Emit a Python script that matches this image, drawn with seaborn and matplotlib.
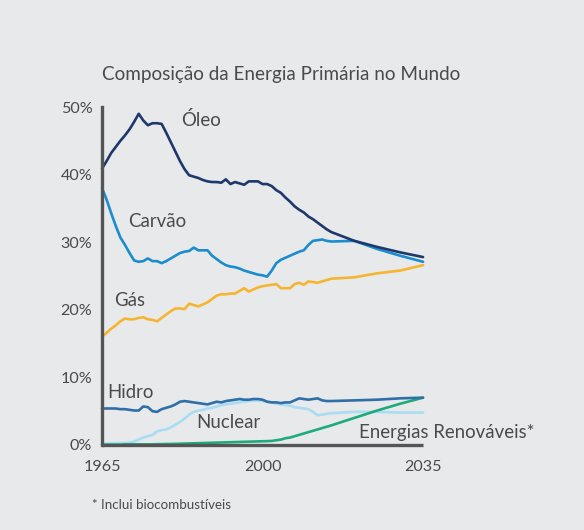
import matplotlib
matplotlib.use("Agg")
import matplotlib.pyplot as plt
import pandas as pd
import seaborn as sns

# values (share of world primary energy, %)
years = list(range(1965, 2016)) + [2020, 2025, 2030, 2035]

oleo = [40.9, 42.0, 43.2, 44.1, 45.0, 45.8, 46.7, 47.8, 49.0, 48.0,
        47.3, 47.6, 47.6, 47.5, 46.2, 44.8, 43.4, 42.0, 40.8, 39.9,
        39.7, 39.5, 39.2, 39.0, 38.9, 38.9, 38.8, 39.3, 38.6, 38.9,
        38.7, 38.5, 39.0, 39.0, 39.0, 38.6, 38.6, 38.3, 37.7, 37.3,
        36.6, 36.0, 35.3, 34.8, 34.4, 33.8, 33.4, 32.9, 32.4, 31.9,
        31.5, 30.2, 29.3, 28.5, 27.8]
carvao = [38.0, 36.3, 34.3, 32.4, 30.7, 29.6, 28.4, 27.3, 27.1, 27.2,
          27.6, 27.2, 27.2, 26.9, 27.2, 27.6, 28.0, 28.4, 28.6, 28.7,
          29.2, 28.8, 28.8, 28.8, 28.0, 27.5, 27.0, 26.6, 26.4, 26.3,
          26.1, 25.8, 25.6, 25.4, 25.2, 25.1, 24.9, 25.8, 26.9, 27.4,
          27.7, 28.0, 28.3, 28.6, 28.8, 29.6, 30.2, 30.3, 30.4, 30.2,
          30.1, 30.2, 29.0, 28.0, 27.1]
gas = [16.0, 16.6, 17.2, 17.7, 18.3, 18.7, 18.6, 18.6, 18.8, 18.9,
       18.6, 18.5, 18.3, 18.8, 19.3, 19.8, 20.2, 20.2, 20.1, 20.9,
       20.7, 20.5, 20.8, 21.1, 21.6, 22.1, 22.3, 22.3, 22.4, 22.4,
       22.8, 23.2, 22.7, 23.0, 23.3, 23.5, 23.6, 23.7, 23.8, 23.2,
       23.2, 23.2, 23.8, 24.0, 23.7, 24.2, 24.1, 24.0, 24.2, 24.4,
       24.6, 24.8, 25.4, 25.8, 26.6]
hidro = [5.4, 5.4, 5.4, 5.4, 5.3, 5.3, 5.2, 5.1, 5.1, 5.7,
         5.6, 5.0, 4.9, 5.3, 5.5, 5.7, 6.0, 6.4, 6.5, 6.4,
         6.3, 6.2, 6.1, 6.0, 6.2, 6.4, 6.3, 6.5, 6.6, 6.7,
         6.8, 6.7, 6.7, 6.8, 6.8, 6.7, 6.4, 6.3, 6.3, 6.2,
         6.3, 6.3, 6.6, 6.9, 6.8, 6.7, 6.8, 6.9, 6.6, 6.5,
         6.5, 6.6, 6.7, 6.9, 7.0]
nuclear = [0.2, 0.2, 0.25, 0.25, 0.3, 0.3, 0.35, 0.5, 0.8, 1.1,
           1.3, 1.5, 2.0, 2.2, 2.3, 2.6, 3.0, 3.4, 3.9, 4.5,
           4.9, 5.1, 5.2, 5.4, 5.5, 5.7, 5.9, 6.0, 6.1, 6.2,
           6.3, 6.4, 6.5, 6.6, 6.6, 6.5, 6.4, 6.3, 6.1, 6.0,
           5.9, 5.8, 5.6, 5.5, 5.4, 5.3, 4.9, 4.4, 4.5, 4.6,
           4.7, 4.9, 4.9, 4.8, 4.8]
renovaveis = [0.05, 0.05, 0.05, 0.05, 0.05, 0.1, 0.1, 0.1, 0.1, 0.1,
              0.1, 0.1, 0.12, 0.13, 0.14, 0.15, 0.17, 0.19, 0.21, 0.23,
              0.25, 0.27, 0.29, 0.31, 0.33, 0.35, 0.37, 0.39, 0.41, 0.43,
              0.45, 0.47, 0.49, 0.51, 0.53, 0.55, 0.57, 0.6, 0.7, 0.8,
              1.0, 1.1, 1.3, 1.5, 1.7, 1.9, 2.1, 2.3, 2.5, 2.7,
              2.9, 4.0, 5.1, 6.1, 7.0]

series = {
    "Nuclear": nuclear,
    "Renováveis": renovaveis,
    "Hidro": hidro,
    "Gás": gas,
    "Carvão": carvao,
    "Óleo": oleo,
}
colors = {
    "Nuclear": "#aadcf3",
    "Renováveis": "#1eaa7b",
    "Hidro": "#2f6ea6",
    "Gás": "#f6b530",
    "Carvão": "#1b8dcd",
    "Óleo": "#1f386b",
}

df = pd.concat(
    [pd.DataFrame({"ano": years, "valor": v, "fonte": k}) for k, v in series.items()],
    ignore_index=True,
)

bg = "#e8e9eb"
txt = "#4a4a4a"

sns.set_style("white")
plt.rcParams["font.family"] = ["Lato", "DejaVu Sans"]

fig = plt.figure(figsize=(5.84, 5.30), dpi=100, facecolor=bg)
ax = fig.add_axes([0.1747, 0.1604, 0.5497, 0.6377])
ax.set_facecolor(bg)

sns.lineplot(data=df, x="ano", y="valor", hue="fonte", palette=colors,
             hue_order=list(series.keys()), linewidth=1.9, legend=False,
             ax=ax, clip_on=False)

ax.set_xlim(1965, 2035)
ax.set_ylim(0, 50)
ax.set_xticks([1965, 2000, 2035])
ax.set_yticks([0, 10, 20, 30, 40, 50])
ax.set_yticklabels(["0%", "10%", "20%", "30%", "40%", "50%"])
ax.set_xlabel("")
ax.set_ylabel("")

for s in ["top", "right"]:
    ax.spines[s].set_visible(False)
for s in ["left", "bottom"]:
    ax.spines[s].set_color("#555555")
    ax.spines[s].set_linewidth(2.4)
    ax.spines[s].set_zorder(5)
ax.spines["bottom"].set_capstyle("butt")

ax.tick_params(axis="y", direction="in", length=4, width=2.4, color="#555555",
               labelsize=11.6, labelcolor=txt, pad=7)
ax.tick_params(axis="x", length=0, labelsize=11.6, labelcolor=txt, pad=11)

# series labels
lab = dict(fontsize=13.4, color=txt, va="center", ha="left")
ax.text(1982.2, 48.1, "Óleo", **lab)
ax.text(1970.7, 33.0, "Carvão", **lab)
ax.text(1967.6, 21.4, "Gás", **lab)
ax.text(1966.1, 7.7, "Hidro", **lab)
ax.text(1985.5, 3.3, "Nuclear", **lab)
ax.text(2021.0, 1.8, "Energias Renováveis*", clip_on=False, **lab)

fig.text(0.1747, 0.860, "Composição da Energia Primária no Mundo",
         fontsize=13.6, color=txt, va="center", ha="left")
fig.text(0.1575, 0.047, "* Inclui biocombustíveis",
         fontsize=9.6, color=txt, va="center", ha="left")

fig.savefig("out.png", dpi=100, facecolor=bg)
